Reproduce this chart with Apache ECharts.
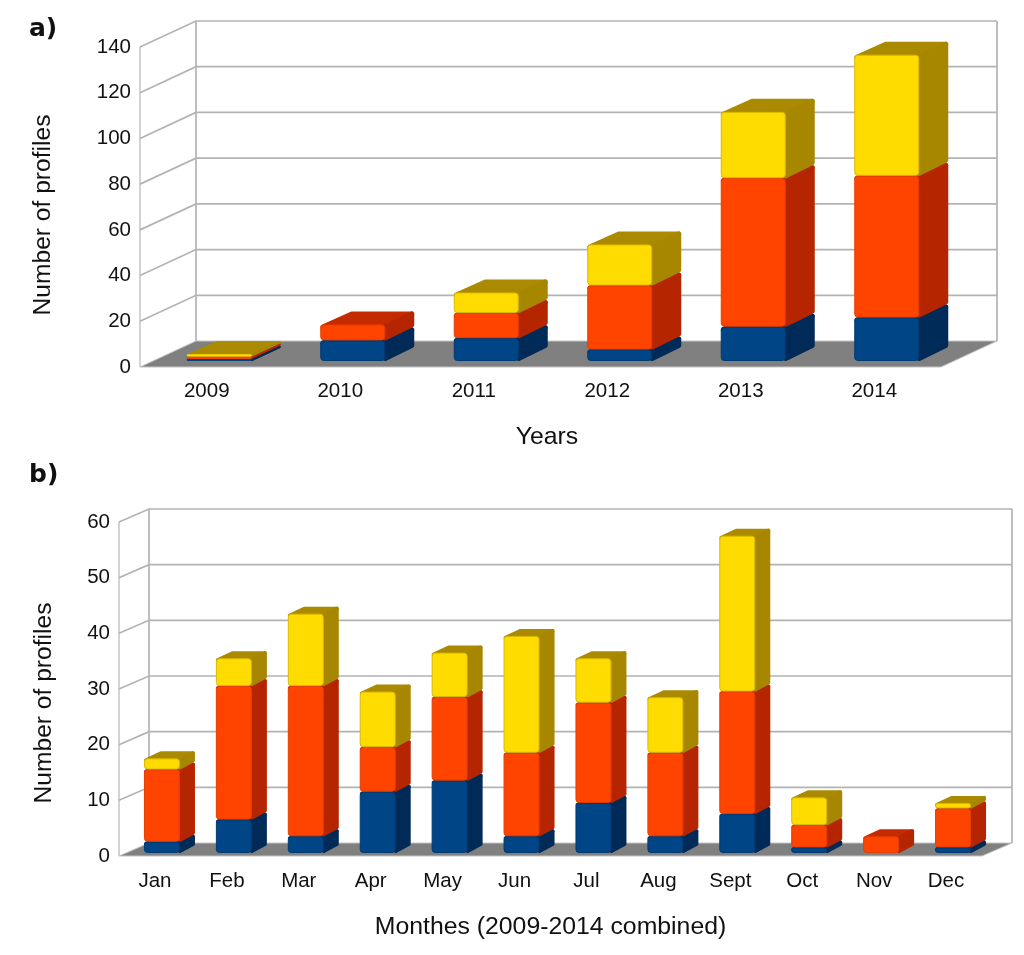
<!DOCTYPE html>
<html>
<head>
<meta charset="utf-8">
<style>html,body{margin:0;padding:0;background:#fff}#c{width:1024px;height:955px}</style>
<script src="https://cdn.jsdelivr.net/npm/echarts@6/dist/echarts.min.js"></script>
</head>
<body>
<div id="c"></div>
<script>
// Data
const years = ['2009','2010','2011','2012','2013','2014'];
const yearsBlue = [1,9,10,5,15,19];
const yearsRed = [1,7,11,28,65,62];
const yearsYellow = [1,0,9,18,29,53];
const yearTicks = [0,20,40,60,80,100,120,140];

const months = ['Jan','Feb','Mar','Apr','May','Jun','Jul','Aug','Sept','Oct','Nov','Dec'];
const monthsBlue = [2,6,3,11,13,3,9,3,7,1,0,1];
const monthsRed = [13,24,27,8,15,15,18,15,22,4,3,7];
const monthsYellow = [2,5,13,10,8,21,8,10,28,5,0,1];
const monthTicks = [0,10,20,30,40,50,60];

const FONT = '"Liberation Sans", Arial, sans-serif';
const COLORS = [
  {front:'#004586', rim:'#003a72', side:'#002a58', top:'#00356a'},
  {front:'#ff4400', rim:'#e63d00', side:'#b52500', top:'#c42b00'},
  {front:'#ffdc00', rim:'#d9b800', side:'#a88700', top:'#aa8a00'}
];
const PANELS = [
  {wall:[56,-26], plane:[12.5,-6], depth:[29,-13], width:65, r:3, lw:5},
  {wall:[30,-13], plane:[7,-3], depth:[15,-7], width:36, r:3, lw:4}
];

function wallsItem(panel){
  return function(params, api){
    const cs = params.coordSys;
    const [dx,dy] = panel.wall;
    const tick = api.value(0);
    const y = api.coord([0,tick])[1];
    const line = {stroke:'#b3b3b3', lineWidth:1.7, fill:null};
    const kids = [];
    if(tick === 0){
      kids.push({type:'polygon', shape:{points:[[cs.x,y],[cs.x+dx,y+dy],[cs.x+cs.width+dx,y+dy],[cs.x+cs.width,y]]},
        style:{fill:'#808080', stroke:'#c4c4c4', lineWidth:1}});
      const topY = cs.y;
      kids.push({type:'polyline', shape:{points:[[cs.x,y],[cs.x,topY]]}, style:{stroke:'#c4c4c4', lineWidth:1.5, fill:null}});
      kids.push({type:'polyline', shape:{points:[[cs.x+dx,y+dy],[cs.x+dx,topY+dy]]}, style:line});
      kids.push({type:'polyline', shape:{points:[[cs.x+cs.width+dx,y+dy],[cs.x+cs.width+dx,topY+dy]]}, style:line});
    } else {
      kids.push({type:'polyline', shape:{points:[[cs.x,y],[cs.x+dx,y+dy],[cs.x+cs.width+dx,y+dy]]}, style:line});
    }
    return {type:'group', silent:true, children:kids};
  };
}

function cubeItem(panel, color){
  return function(params, api){
    const i = api.value(0);
    const cx = api.coord([i,0])[0] + panel.plane[0];
    const y0 = api.coord([i,api.value(1)])[1] + panel.plane[1];
    const y1 = api.coord([i,api.value(2)])[1] + panel.plane[1];
    const l = cx - panel.width/2, r = cx + panel.width/2;
    const [dx,dy] = panel.depth;
    const tall = y0 - y1;
    const lw = Math.min(panel.lw, tall), h = lw/2;
    const rounded = (fill)=>({fill:fill, stroke:fill, lineWidth:lw, lineJoin:'round'});
    return {type:'group', silent:true, children:[
      {type:'polygon', shape:{points:[[l+h,y1+h],[l+dx+h,y1+dy+h],[r+dx-h,y1+dy+h],[r,y1+h]]}, style:rounded(color.top)},
      {type:'polygon', shape:{points:[[r,y1+h],[r+dx-h,y1+dy+h],[r+dx-h,y0+dy-h],[r,y0-h]]}, style:rounded(color.side)},
      tall < 5
        ? {type:'rect', shape:{x:l, y:y1, width:panel.width, height:tall, r:Math.min(panel.r,tall/2)}, style:{fill:color.front}}
        : {type:'rect', shape:{x:l+.5, y:y1+.5, width:panel.width-1, height:tall-1, r:panel.r},
           style:{fill:color.front, stroke:color.rim, lineWidth:1}}
    ]};
  };
}

function stackData(layers, c){
  const below = layers.slice(0,c);
  const out = [];
  layers[c].forEach((v,i)=>{
    if(v>0){
      const s = below.reduce((a,arr)=>a+arr[i],0);
      out.push([i,s,s+v]);
    }
  });
  return out;
}

function panelSeries(idx, ticks, layers){
  const panel = PANELS[idx];
  const list = [{
    type:'custom', xAxisIndex:idx, yAxisIndex:idx, clip:false, silent:true, z:1,
    renderItem:wallsItem(panel), data:ticks.map(t=>[t]), encode:{y:0}
  }];
  layers.forEach((arr,c)=>{
    list.push({
      type:'custom', xAxisIndex:idx, yAxisIndex:idx, clip:false, silent:true, z:2+c,
      renderItem:cubeItem(panel, COLORS[c]), data:stackData(layers,c), encode:{x:0,y:[1,2]}
    });
  });
  return list;
}

const axisName = {color:'#111', fontFamily:FONT, fontSize:24.6};
function xAx(idx, cats, name, gap, pad){
  return {type:'category', gridIndex:idx, data:cats, boundaryGap:true,
    axisLine:{show:false}, axisTick:{show:false}, splitLine:{show:false},
    axisLabel:{color:'#111', fontFamily:FONT, fontSize:20.5, margin:idx?15:14, interval:0},
    name:name, nameLocation:'middle', nameGap:gap, nameTextStyle:Object.assign({},axisName,{fontSize:24.8,padding:pad})};
}
function yAx(idx, max, step, gap, pad){
  return {type:'value', gridIndex:idx, min:0, max:max, interval:step,
    axisLine:{show:false}, axisTick:{show:false}, splitLine:{show:false},
    axisLabel:{color:'#111', fontFamily:FONT, fontSize:20.5, margin:9},
    name:'Number of profiles', nameLocation:'middle', nameGap:gap, nameRotate:90, nameTextStyle:Object.assign({},axisName,{padding:pad})};
}

const chart = echarts.init(document.getElementById('c'), null, {width:1024, height:955});
chart.setOption({
  animation:false,
  backgroundColor:'#ffffff',
  tooltip:{show:false},
  legend:{show:false},
  grid:[
    {left:140, top:47, width:801, height:320},
    {left:119, top:522, width:863, height:334}
  ],
  xAxis:[
    xAx(0, years, 'Years', 58, [0,0,0,13]),
    xAx(1, months, 'Monthes (2009-2014 combined)', 59, [0,0,0,0])
  ],
  yAxis:[
    yAx(0, 140, 20, 84, [0,16,0,0]),
    yAx(1, 60, 10, 62, [0,28,0,0])
  ],
  graphic:[
    {type:'text', left:29, top:17, style:{text:'a)', fontFamily:'"DejaVu Sans"', fontWeight:'bold', fontSize:25, fill:'#111'}},
    {type:'text', left:29, top:463, style:{text:'b)', fontFamily:'"DejaVu Sans"', fontWeight:'bold', fontSize:25, fill:'#111'}}
  ],
  series:[
    ...panelSeries(0, yearTicks, [yearsBlue,yearsRed,yearsYellow]),
    ...panelSeries(1, monthTicks, [monthsBlue,monthsRed,monthsYellow])
  ]
});
</script>
</body>
</html>
